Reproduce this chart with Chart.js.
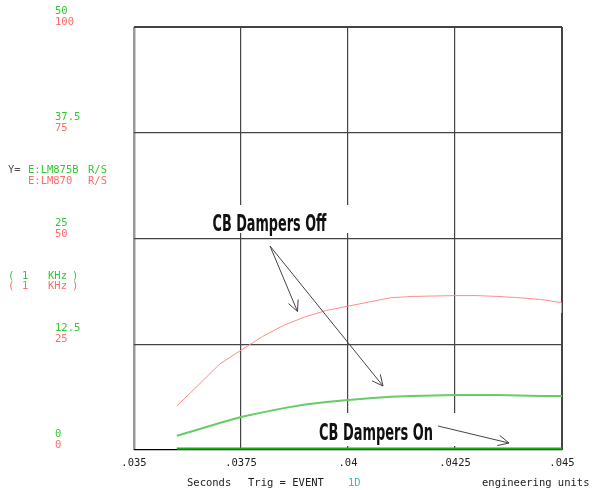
<!DOCTYPE html>
<html><head><meta charset="utf-8">
<script src="https://cdn.jsdelivr.net/npm/chart.js@4.4.0/dist/chart.umd.min.js"></script>
<style>html,body{margin:0;padding:0;background:#fff}#wrap{width:594px;height:490px;position:relative}</style>
</head><body><div id="wrap"><canvas id="c" width="594" height="490"></canvas></div>
<script>
// time axis (seconds)
const timeS = [0.036,0.0365,0.037,0.0375,0.038,0.0385,0.039,0.0395,0.040,0.0405,0.041,0.0415,0.042,0.0425,0.043,0.0435,0.044,0.0445,0.045,0.045];
// E:LM870 R/S (kHz, 0-100 scale) - dampers off
const offRed   = [10.4,15.3,20.3,23.6,26.8,29.5,31.5,33.0,34.0,35.0,36.0,36.3,36.4,36.5,36.5,36.3,36.0,35.6,34.8,32.4];
// E:LM875B R/S (kHz, 0-50 scale) - dampers off
const offGreen = [1.69,2.42,3.19,3.9,4.45,4.95,5.38,5.67,5.91,6.11,6.29,6.38,6.44,6.5,6.5,6.5,6.44,6.38,6.38,6.38];
// dampers on
const onGreen   = [0.2,0.2,0.2,0.2,0.2,0.2,0.2,0.2,0.2,0.2,0.2,0.2,0.2,0.2,0.2,0.2,0.2,0.2,0.2,0.2];
const onMagenta = [0,0,0,0,0,0,0,0,0,0,0,0,0,0,0,0,0,0,0,0];

const xTicks = [0.035,0.0375,0.04,0.0425,0.045];
const xTickLabels = ['.035','.0375','.04','.0425','.045'];
const greenTicks = [0,12.5,25,37.5,50];
const greenTickLabels = ['0','12.5','25','37.5','50'];
const redTicks = [0,25,50,75,100];
const redTickLabels = ['0','25','50','75','100'];

const GREEN_TXT = '#33c833';
const RED_TXT = '#ff6a6a';
const MONO = '10.5px "DejaVu Sans Mono", monospace';

function pts(ys){ return timeS.map((t,i)=>({x:t,y:ys[i]})); }

const overlay = {
  id:'overlay',
  afterDraw(chart){
    const ctx = chart.ctx;
    const xs = chart.scales.x, yR = chart.scales.yR, yG = chart.scales.yG;
    ctx.save();
    ctx.font = MONO;
    ctx.textBaseline = 'middle';
    ctx.textAlign = 'left';
    greenTicks.forEach((v,i)=>{
      const py = yG.getPixelForValue(v);
      ctx.fillStyle = GREEN_TXT; ctx.fillText(greenTickLabels[i], 55, py-15.5);
    });
    redTicks.forEach((v,i)=>{
      const py = yR.getPixelForValue(v);
      ctx.fillStyle = RED_TXT; ctx.fillText(redTickLabels[i], 55, py-4.5);
    });
    ctx.fillStyle = '#555'; ctx.fillText('Y=', 8, 170);
    ctx.fillStyle = GREEN_TXT; ctx.fillText('E:LM875B', 28, 170); ctx.fillText('R/S', 88, 170);
    ctx.fillStyle = RED_TXT; ctx.fillText('E:LM870', 28, 181); ctx.fillText('R/S', 88, 181);
    ctx.fillStyle = GREEN_TXT; ctx.fillText('(', 8, 276.5); ctx.fillText('1', 22, 276.5); ctx.fillText('KHz', 48, 276.5); ctx.fillText(')', 72, 276.5);
    ctx.fillStyle = RED_TXT; ctx.fillText('(', 8, 286.5); ctx.fillText('1', 22, 286.5); ctx.fillText('KHz', 48, 286.5); ctx.fillText(')', 72, 286.5);
    ctx.textAlign = 'center'; ctx.fillStyle = '#222';
    xTicks.forEach((v,i)=>{ ctx.fillText(xTickLabels[i], xs.getPixelForValue(v), 463); });
    ctx.textAlign = 'left';
    ctx.fillStyle = '#222';
    ctx.fillText('Seconds', 187, 483);
    ctx.fillText('Trig = EVENT', 248, 483);
    ctx.fillText('engineering units', 482, 483);
    ctx.fillStyle = '#22c8c8'; ctx.fillText('1D', 348, 483);

    function label(text, x0, width, baseline){
      ctx.save();
      ctx.font = 'bold 23px "DejaVu Sans", sans-serif';
      ctx.textBaseline = 'alphabetic'; ctx.textAlign = 'left';
      const w = ctx.measureText(text).width;
      ctx.translate(x0, baseline);
      ctx.scale(width/w, 1);
      ctx.fillStyle = '#111';
      ctx.fillText(text, 0, 0);
      ctx.restore();
    }
    function arrow(x1,y1,x2,y2){
      ctx.save();
      ctx.strokeStyle = '#444'; ctx.lineWidth = 1;
      ctx.beginPath(); ctx.moveTo(x1,y1); ctx.lineTo(x2,y2); ctx.stroke();
      const a = Math.atan2(y2-y1, x2-x1), L = 12, s = 0.45;
      ctx.beginPath();
      ctx.moveTo(x2 - L*Math.cos(a-s), y2 - L*Math.sin(a-s));
      ctx.lineTo(x2,y2);
      ctx.lineTo(x2 - L*Math.cos(a+s), y2 - L*Math.sin(a+s));
      ctx.stroke();
      ctx.restore();
    }
    ctx.fillStyle = '#fff';
    ctx.fillRect(205, 205, 152, 28);
    label('CB Dampers Off', 212.5, 114, 230.5);
    arrow(270, 246, 297.5, 311.5);
    arrow(270, 246, 383, 386);
    ctx.fillStyle = '#fff';
    ctx.fillRect(312, 413, 150, 33);
    label('CB Dampers On', 319, 114, 439.5);
    arrow(438, 426, 509, 443);
    ctx.restore();
  }
};

new Chart(document.getElementById('c'), {
  type: 'scatter',
  data: { datasets: [
    { label:'E:LM870 off', data: pts(offRed), yAxisID:'yR', showLine:true, borderColor:'#ff8c8c', borderWidth:1, pointRadius:0, tension:0 },
    { label:'E:LM875B off', data: pts(offGreen), yAxisID:'yG', showLine:true, borderColor:'#66cc66', borderWidth:2, pointRadius:0, tension:0 },
    { label:'E:LM875B on', data: pts(onGreen), yAxisID:'yG', showLine:true, borderColor:'#10b010', borderWidth:1.5, pointRadius:0, tension:0 },
    { label:'E:LM870 on', data: pts(onMagenta), yAxisID:'yR', showLine:true, borderColor:'#ff00ff', borderWidth:1.5, pointRadius:0, tension:0 }
  ]},
  options: {
    responsive:false, animation:false,
    layout:{ padding:{ left:134, right:32, top:27, bottom:40 } },
    plugins:{ legend:{display:false}, tooltip:{enabled:false} },
    scales:{
      x:{ type:'linear', min:0.035, max:0.045,
        afterBuildTicks: s => { s.ticks = xTicks.map(v=>({value:v})); },
        afterFit: s => { s.height = 0; },
        ticks:{ display:false },
        border:{ display:false },
        grid:{ drawTicks:false,
          color: c => (c.tick && c.tick.value===0.035) ? '#999' : '#444',
          lineWidth: c => (c.tick && c.tick.value===0.035) ? 2.5 : (c.tick && c.tick.value===0.045 ? 2 : 1.2) }
      },
      yR:{ type:'linear', position:'left', min:0, max:100,
        afterBuildTicks: s => { s.ticks = redTicks.map(v=>({value:v})); },
        afterFit: s => { s.width = 0; },
        ticks:{ display:false }, border:{ display:false },
        grid:{ drawTicks:false,
          color: c => (c.tick && c.tick.value===0) ? '#000' : '#444',
          lineWidth: c => (c.tick && c.tick.value===100) ? 2 : 1.2 }
      },
      yG:{ type:'linear', position:'right', min:0, max:50,
        afterFit: s => { s.width = 0; },
        ticks:{ display:false }, border:{ display:false }, grid:{ display:false }
      }
    }
  },
  plugins:[overlay]
});
</script></body></html>
